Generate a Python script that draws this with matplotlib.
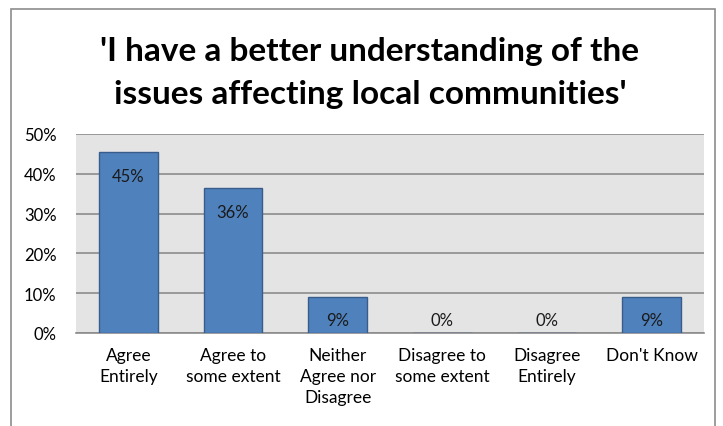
import matplotlib
matplotlib.use("Agg")
import matplotlib.pyplot as plt
from matplotlib.patches import Rectangle

plt.rcParams["font.family"] = ["Lato", "DejaVu Sans"]

categories = ["Agree\nEntirely", "Agree to\nsome extent", "Neither\nAgree nor\nDisagree",
              "Disagree to\nsome extent", "Disagree\nEntirely", "Don't Know"]
values = [45.45, 36.36, 9.09, 0.0, 0.0, 9.09]
labels = ["45%", "36%", "9%", "0%", "0%", "9%"]
y_ticks = [0, 10, 20, 30, 40, 50]
title = "'I have a better understanding of the\nissues affecting local communities'"

fig = plt.figure(figsize=(7.23, 4.27), dpi=100)
fig.patches.append(Rectangle((11 / 723, -0.1), (715 - 11) / 723, 1.1 - 10 / 427,
                             transform=fig.transFigure, fill=False,
                             edgecolor="#8c8c8c", linewidth=1.2))

ax = fig.add_axes([76 / 723, 1 - 334 / 427, (704 - 76) / 723, (334 - 135) / 427])
ax.set_facecolor("#e4e4e4")

x = range(len(categories))
ax.bar(x, values, width=0.56, color="#4f81bd", edgecolor="#385d8a", linewidth=1, zorder=3)

min_pos = min(v for v in values if v > 0)
for i, (v, lab) in enumerate(zip(values, labels)):
    ax.annotate(lab, xy=(i, max(v, min_pos)), xytext=(0, -17), textcoords="offset points",
                ha="center", va="center", fontsize=12, color="#1a1a1a", zorder=4)

ax.set_xlim(-0.5, len(categories) - 0.5)
ax.set_ylim(0, 50)
ax.set_yticks(y_ticks)
ax.set_yticklabels([f"{t}%" for t in y_ticks], fontsize=12)
ax.set_xticks(list(x))
ax.set_xticklabels(categories, fontsize=12.5, linespacing=1.4, va="top")
ax.tick_params(axis="x", length=0, pad=10)
ax.tick_params(axis="y", length=0, pad=14)
ax.grid(axis="y", color="#8c8c8c", linewidth=1.2, zorder=1)
for s in ax.spines.values():
    s.set_visible(False)
ax.spines["bottom"].set_visible(True)
ax.spines["bottom"].set_color("#8c8c8c")
ax.spines["bottom"].set_linewidth(1.2)

fig.text(370 / 723, 1 - 73 / 427, title, ha="center", va="center", fontsize=24,
         fontweight="bold", linespacing=1.55)

fig.savefig("out.png", dpi=100)
